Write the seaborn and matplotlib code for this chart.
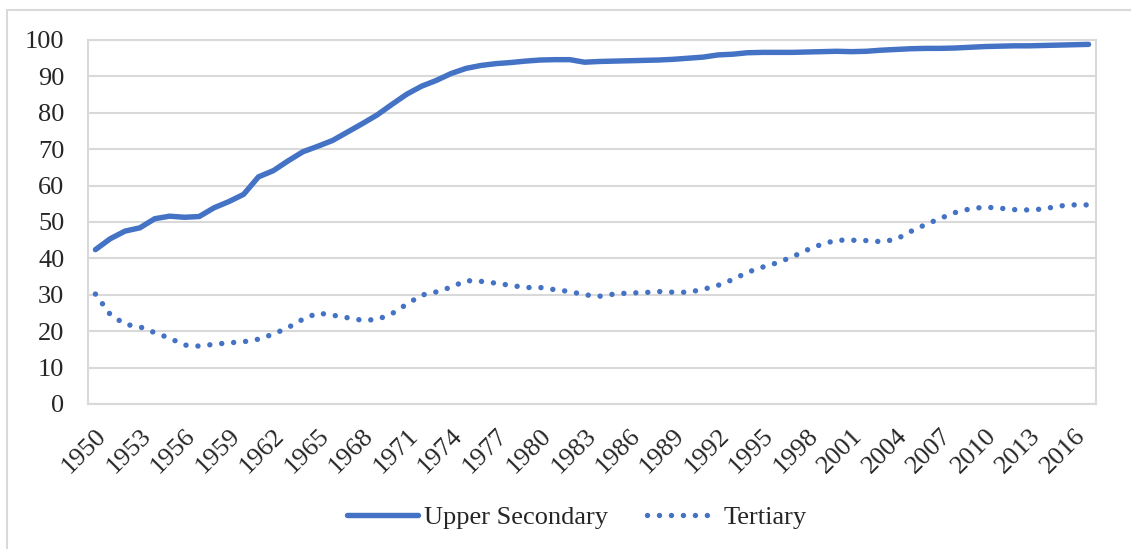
import pandas as pd
import matplotlib.pyplot as plt
import seaborn as sns
from matplotlib.patches import Rectangle
from matplotlib.transforms import ScaledTranslation

years = list(range(1950, 2018))

upper_secondary = [
    42.4, 45.4, 47.5, 48.4, 50.9, 51.6, 51.3, 51.5, 53.9, 55.6,
    57.6, 62.4, 64.1, 66.8, 69.3, 70.8, 72.4, 74.7, 77.0, 79.4,
    82.3, 85.1, 87.3, 88.9, 90.8, 92.2, 93.0, 93.5, 93.8, 94.2,
    94.5, 94.6, 94.6, 93.9, 94.1, 94.2, 94.3, 94.4, 94.5, 94.7,
    95.0, 95.3, 95.9, 96.1, 96.5, 96.6, 96.6, 96.6, 96.7, 96.8,
    96.9, 96.8, 96.9, 97.2, 97.4, 97.6, 97.7, 97.7, 97.8, 98.0,
    98.2, 98.3, 98.4, 98.4, 98.5, 98.6, 98.7, 98.8,
]

tertiary = [
    30.2, 24.6, 21.9, 21.2, 19.6, 18.1, 16.2, 15.9, 16.4, 16.8,
    17.1, 17.8, 19.2, 21.0, 23.3, 25.0, 24.4, 23.7, 23.0, 23.2,
    24.8, 27.4, 29.9, 30.8, 32.1, 33.9, 33.7, 33.2, 32.6, 32.0,
    32.0, 31.4, 30.9, 30.0, 29.6, 30.2, 30.5, 30.6, 30.9, 30.7,
    30.7, 31.5, 32.6, 34.2, 36.2, 37.6, 38.8, 40.4, 42.3, 43.9,
    45.0, 45.0, 44.9, 44.6, 45.2, 47.4, 49.3, 51.0, 52.6, 53.6,
    54.1, 53.8, 53.4, 53.3, 53.6, 54.4, 54.7, 54.7,
]

tick_years = list(range(1950, 2017, 3))
y_ticks = list(range(0, 101, 10))

df = pd.DataFrame({"year": years, "Upper Secondary": upper_secondary, "Tertiary": tertiary})

sns.set_style("white")
plt.rcParams['font.family'] = ['Liberation Serif', 'DejaVu Serif']

blue = '#4472C4'
grid_col = '#D9D9D9'

fig, ax = plt.subplots(figsize=(11.31, 5.49), dpi=100)
fig.subplots_adjust(left=88/1131, right=1096/1131, top=1-40/549, bottom=1-404/549)

sns.lineplot(x="year", y="Upper Secondary", data=df, ax=ax, color=blue,
             linewidth=3.9, label="Upper Secondary")
sns.lineplot(x="year", y="Tertiary", data=df, ax=ax, color=blue,
             linewidth=3.9, label="Tertiary")

l1, l2 = ax.lines[0], ax.lines[1]
l1.set_solid_capstyle('round')
l2.set_linestyle((0, (0.01, 2.2)))
l2.set_dash_capstyle('round')

ax.set_xlim(1949.5, 2017.5)
ax.set_ylim(0, 100)
ax.set_xticks(tick_years)
ax.set_xticklabels([str(y) for y in tick_years], rotation=45, ha='right',
                   rotation_mode='anchor', fontsize=19)
shift = ScaledTranslation(4/100, 0, fig.dpi_scale_trans)
for lab in ax.get_xticklabels():
    lab.set_transform(lab.get_transform() + shift)
ax.set_yticks(y_ticks)
ax.set_yticklabels([str(v) for v in y_ticks], fontsize=19)
ax.tick_params(axis='y', length=0, pad=17)
ax.tick_params(axis='x', length=0, pad=15)
ax.set_xlabel("")
ax.set_ylabel("")

ax.grid(axis='y', color=grid_col, linewidth=1.5)
ax.set_axisbelow(True)
for s in ax.spines.values():
    s.set_color(grid_col)
    s.set_linewidth(1.5)

ax.legend(loc='center', bbox_to_anchor=(577/1131, 1-517/549), bbox_transform=fig.transFigure,
          ncol=2, frameon=False, fontsize=19, handlelength=2.7, handletextpad=0.23,
          columnspacing=1.45)

fig.patches.append(Rectangle((7/1131, -0.1), 1.2, 1.1 - 10.5/549, transform=fig.transFigure,
                             fill=False, edgecolor=grid_col, linewidth=1.5, figure=fig))

fig.savefig("out.png", dpi=100)
